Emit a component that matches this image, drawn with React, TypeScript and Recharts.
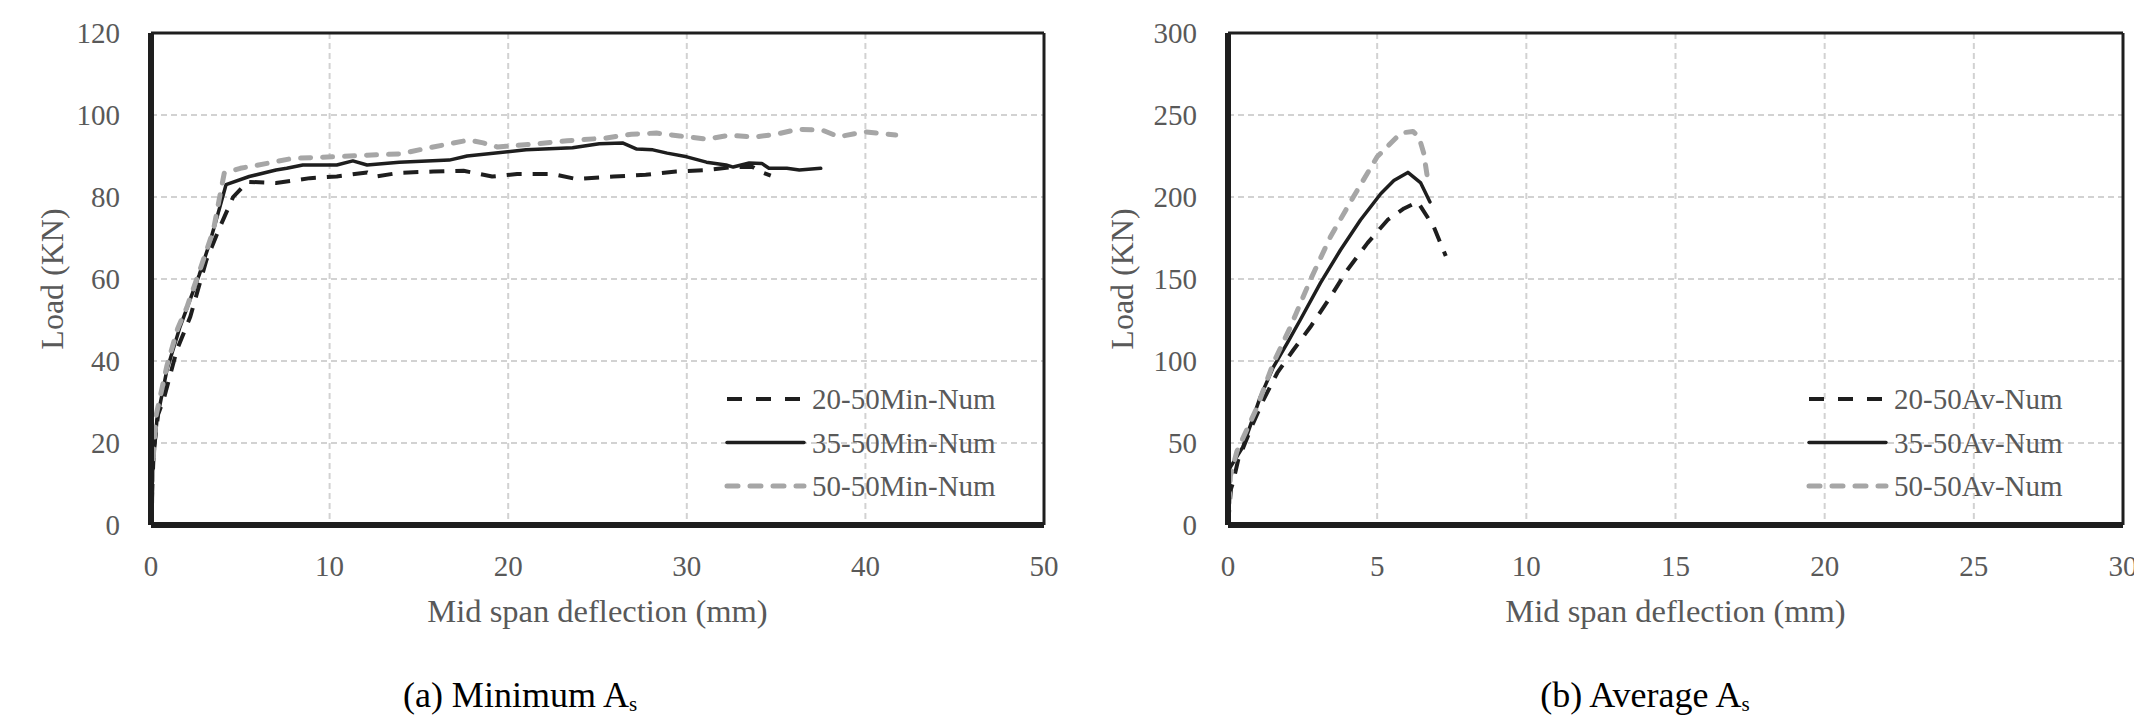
import React from "react"
import { LineChart, Line, XAxis, YAxis, CartesianGrid, ReferenceLine, Legend, Label } from "recharts"

// [deflection (mm), load (kN)]
const min2050: [number, number][] = [
  [0, 0], [0.15, 18], [0.4, 27], [0.7, 30.5], [1.45, 42.7], [2.2, 50.8], [3.1, 64.6], [3.86, 72.7],
  [4.6, 80], [5.4, 83.7], [7.0, 83.4], [8.9, 84.6], [10.4, 85], [12.1, 86], [12.6, 85], [13.9, 85.9],
  [15.8, 86.2], [17.5, 86.4], [19.1, 85], [20.5, 85.6], [22.5, 85.6], [23.8, 84.4], [25.9, 85],
  [27.7, 85.4], [29.4, 86.2], [31.1, 86.6], [32.6, 87.3], [33.7, 87.3], [34.1, 86.2], [34.7, 85.2],
]
const min3550: [number, number][] = [
  [0, 0], [0.1, 14], [0.33, 25.6], [0.9, 38], [1.6, 48], [2.7, 61], [3.3, 69], [3.86, 77.6], [4.2, 83],
  [5.5, 85], [7.0, 86.6], [7.6, 87], [8.5, 87.8], [10.4, 87.8], [11.3, 88.8], [12.1, 87.8], [13.9, 88.5],
  [16.7, 89], [17.7, 90], [21, 91.5], [23.6, 92], [25.1, 93], [26.4, 93.2], [27.2, 91.7], [28.1, 91.5],
  [28.9, 90.7], [30, 89.8], [31.1, 88.5], [32.2, 87.8], [32.6, 87.3], [33.5, 88.3], [34.2, 88.2],
  [34.6, 87], [35.6, 87], [36.3, 86.6], [37.5, 87],
]
const min5050: [number, number][] = [
  [0, 0], [0.1, 15], [0.3, 27], [0.9, 39], [1.5, 48], [2.0, 53], [2.8, 63], [3.5, 72], [3.8, 79],
  [4.1, 85.8], [5.0, 87], [6.5, 88.2], [7.9, 89.4], [10.2, 89.8], [12.1, 90.2], [13.9, 90.5], [15.8, 92.2],
  [17.8, 93.9], [18.6, 93.2], [19.4, 92.2], [21.4, 92.9], [23.3, 93.7], [25.5, 94.4], [26.9, 95.3],
  [28.3, 95.6], [29.6, 94.9], [31.1, 94.1], [32.4, 95.1], [33.7, 94.6], [35, 95.3], [36.2, 96.5],
  [37.6, 96.3], [38.5, 94.7], [40, 95.9], [41.7, 95.1],
]

const av2050: [number, number][] = [
  [0, 0], [0.1, 22], [0.17, 26], [0.34, 39.6], [0.84, 62], [1.18, 76], [1.65, 92.7], [2.19, 106.7],
  [2.76, 120.7], [3.43, 139], [4.0, 155.5], [4.68, 172], [5.35, 186], [5.9, 193], [6.36, 197],
  [6.9, 181.7], [7.3, 164],
]
const av3550: [number, number][] = [
  [0, 0], [0.07, 35], [0.5, 47.6], [1.08, 78], [1.52, 96.3], [1.99, 111], [2.42, 125], [3.1, 147.6],
  [3.77, 167.7], [4.44, 186], [5.12, 202], [5.56, 210], [6.03, 215], [6.46, 208.6], [6.77, 197],
]
const av5050: [number, number][] = [
  [0, 0], [0.08, 30], [0.3, 45], [0.98, 72], [1.52, 98.8], [2.09, 120.7], [2.76, 149.4], [3.43, 175.6],
  [4.2, 200], [5.0, 224.5], [5.79, 239], [6.2, 240], [6.4, 236.6], [6.56, 226.8], [6.7, 210],
]

const minXTicks = [0, 10, 20, 30, 40, 50]
const minYTicks = [0, 20, 40, 60, 80, 100, 120]
const avXTicks = [0, 5, 10, 15, 20, 25, 30]
const avYTicks = [0, 50, 100, 150, 200, 250, 300]

const minNames = ["20-50Min-Num", "35-50Min-Num", "50-50Min-Num"]
const avNames = ["20-50Av-Num", "35-50Av-Num", "50-50Av-Num"]

const FONT = "'Liberation Serif', 'Times New Roman', serif"
const DARK = "#1e1e1e"
const GREY = "#a6a6a6"
const TEXT = "#595959"

const styles = [
  { stroke: DARK, strokeWidth: 4, strokeDasharray: "15 11", strokeLinecap: "butt" as const },
  { stroke: DARK, strokeWidth: 3.5, strokeDasharray: undefined, strokeLinecap: "round" as const },
  { stroke: GREY, strokeWidth: 5, strokeDasharray: "10 12", strokeLinecap: "round" as const },
]

const toPts = (a: [number, number][]) => a.map(([x, y]) => ({ x, y }))

function LegendBox({ names }: { names: string[] }) {
  return (
    <svg width={360} height={130} style={{ display: "block" }}>
      {names.map((n, i) => {
        const y = 20 + i * 43.5
        const s = styles[i]
        return (
          <g key={n}>
            <line x1={3} x2={80} y1={y} y2={y} stroke={s.stroke} strokeWidth={s.strokeWidth}
              strokeDasharray={i === 0 ? "15 14" : i === 2 ? "11 12" : undefined} strokeLinecap={s.strokeLinecap} />
            <text x={88} y={y} dy="0.35em" fill={TEXT} fontSize={29} fontFamily={FONT}>{n}</text>
          </g>
        )
      })}
    </svg>
  )
}

type PanelProps = {
  left: number
  width: number
  yAxisWidth: number
  marginRight: number
  xMax: number
  yMax: number
  xTicks: number[]
  yTicks: number[]
  series: [number, number][][]
  names: string[]
  legendLeft: number
  yTitleOffset: number
}

function Panel(p: PanelProps) {
  const tick = { fill: TEXT, fontSize: 29, fontFamily: FONT }
  return (
    <div style={{ position: "absolute", left: p.left, top: 0 }}>
      <LineChart width={p.width} height={640} margin={{ top: 33, right: p.marginRight, left: 0, bottom: 0 }}>
        <CartesianGrid stroke="#d2d2d2" strokeWidth={2} strokeDasharray="6 4" />
        <XAxis type="number" dataKey="x" domain={[0, p.xMax]} ticks={p.xTicks} height={115}
          tickLine={false} tickSize={0} tickMargin={30} tick={tick} interval={0}
          axisLine={{ stroke: DARK, strokeWidth: 6 }} allowDataOverflow>
          <Label value="Mid span deflection (mm)" position="insideBottom" offset={18}
            style={{ fill: TEXT, fontSize: 32.5, fontFamily: FONT }} />
        </XAxis>
        <YAxis type="number" dataKey="y" domain={[0, p.yMax]} ticks={p.yTicks} width={p.yAxisWidth}
          tickLine={false} tickSize={0} tickMargin={31} tick={tick} interval={0}
          axisLine={{ stroke: DARK, strokeWidth: 6 }}>
          <Label value="Load (KN)" angle={-90} position="insideLeft" offset={p.yTitleOffset}
            style={{ fill: TEXT, fontSize: 32, fontFamily: FONT, textAnchor: "middle" }} />
        </YAxis>
        <ReferenceLine y={p.yMax} stroke={DARK} strokeWidth={3} />
        <ReferenceLine x={p.xMax} stroke={DARK} strokeWidth={3} />
        {p.series.map((d, i) => (
          <Line key={p.names[i]} data={toPts(d)} dataKey="y" name={p.names[i]} type="linear"
            dot={false} activeDot={false} isAnimationActive={false}
            stroke={styles[i].stroke} strokeWidth={styles[i].strokeWidth}
            strokeDasharray={styles[i].strokeDasharray} strokeLinecap={styles[i].strokeLinecap}
            strokeLinejoin="round" />
        ))}
        <Legend layout="horizontal" verticalAlign="middle" align="center"
          wrapperStyle={{ left: p.legendLeft, top: 379, width: 360 }}
          content={() => <LegendBox names={p.names} />} />
      </LineChart>
    </div>
  )
}

export default function App() {
  return (
    <div style={{ position: "absolute", left: 0, top: 0, width: 2134, height: 728, background: "#fff", overflow: "hidden", fontFamily: FONT }}>
      <Panel left={0} width={1070} yAxisWidth={151} marginRight={26} xMax={50} yMax={120}
        xTicks={minXTicks} yTicks={minYTicks} series={[min2050, min3550, min5050]} names={minNames}
        legendLeft={724} yTitleOffset={52} />
      <Panel left={1075} width={1059} yAxisWidth={153} marginRight={11} xMax={30} yMax={300}
        xTicks={avXTicks} yTicks={avYTicks} series={[av2050, av3550, av5050]} names={avNames}
        legendLeft={731} yTitleOffset={47} />
      <div style={{ position: "absolute", left: 520, top: 677, transform: "translateX(-50%)", fontSize: 36, lineHeight: "36px", color: "#000", whiteSpace: "nowrap" }}>
        (a) Minimum A<span style={{ fontSize: 21, verticalAlign: "-4px" }}>s</span>
      </div>
      <div style={{ position: "absolute", left: 1645, top: 677, transform: "translateX(-50%)", fontSize: 36, lineHeight: "36px", color: "#000", whiteSpace: "nowrap" }}>
        (b) Average A<span style={{ fontSize: 21, verticalAlign: "-4px" }}>s</span>
      </div>
    </div>
  )
}
